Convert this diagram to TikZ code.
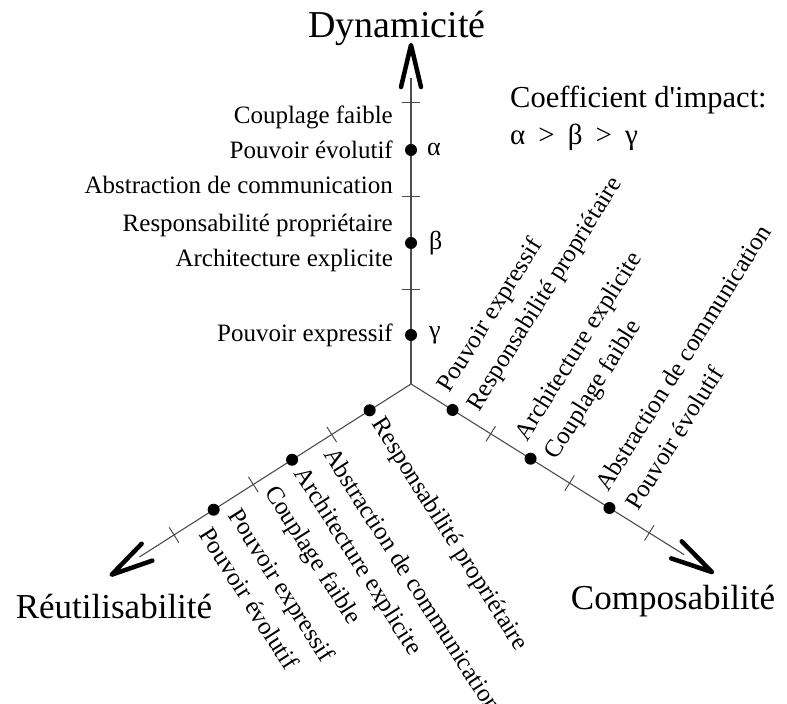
\documentclass[tikz,border=0pt]{standalone}
\usepackage{fontspec}
\setmainfont{Liberation Serif}
\newfontfamily\coeffont{Liberation Serif}[Ligatures=TeXOff]
\usetikzlibrary{calc}
\begin{document}
\begin{tikzpicture}[x=1pt,y=1pt,
  axisline/.style={line width=1.1pt, black!70},
  chevron/.style={line width=4.5pt, line cap=round, line join=round},
  tickmark/.style={line width=1pt, black!70},
  dotnode/.style={circle, fill=black, inner sep=0pt, minimum size=12pt},
  lbl/.style={font=\fontsize{25}{35}\selectfont, inner sep=0pt},
  greek/.style={font=\fontsize{26}{30}\selectfont, inner sep=0pt, anchor=west},
  axtitle/.style={font=\fontsize{35}{40}\selectfont, inner sep=0pt},
]
\useasboundingbox (0,0) rectangle (787,704);
\coordinate (O) at (411,320);

% axes, arrowheads, ticks, dots
\foreach \n/\a/\L/\T in {u/90/306/339, r/-32/322/355, l/212.5/322/355} {
  \coordinate (\n end) at ($(O)+(\a:\L)$);
  \coordinate (\n tip) at ($(O)+(\a:\T)$);
  \coordinate (\n armA) at ($(O)+(\a:\T-42)+(\a+90:10)$);
  \coordinate (\n armB) at ($(O)+(\a:\T-42)+(\a-90:10)$);
  \draw[axisline] (O) -- (\n end);
  \draw[chevron] (\n armA) -- (\n tip) -- (\n armB);
  \foreach \d in {94,187,281} {
    \draw[tickmark] ($(O)+(\a:\d)+(\a+90:9)$) -- ($(O)+(\a:\d)+(\a-90:9)$);
  }
  \node[dotnode] (\n1) at ($(O)+(\a:49)$) {};
  \node[dotnode] (\n2) at ($(O)+(\a:141)$) {};
  \node[dotnode] (\n3) at ($(O)+(\a:234)$) {};
}

% axis titles
\node[axtitle, font=\fontsize{38}{40}\selectfont] (tdyn) at (397,676) {Dynamicité};
\node[axtitle] (treu) at (114,97) {Réutilisabilité};
\node[axtitle] (tcomp) at (673,103) {Composabilité};

% coefficient legend
\node[inner sep=0pt, anchor=west, font=\coeffont\fontsize{30.5}{34}\selectfont] (coef) at (510,604) {Coefficient d'impact:};
\node[inner sep=0pt, anchor=west, font=\fontsize{29}{34}\selectfont] (order) at (510,567) {α\hspace{0.2em} > \hspace{0.2em}β\hspace{0.2em} > \hspace{0.2em}γ};

% vertical axis labels
\node[lbl, anchor=east, align=right] (u3l) at ($(u3)+(-18,0)$) {Couplage faible\\Pouvoir évolutif\\Abstraction de communication};
\node[lbl, anchor=east, align=right] (u2l) at ($(u2)+(-18,0)$) {Responsabilité propriétaire\\Architecture explicite};
\node[lbl, anchor=east, align=right] (u1l) at ($(u1)+(-18,0)$) {Pouvoir expressif};
\node[greek] (ga) at ($(u3)+(16,0)$) {α};
\node[greek] (gb) at ($(u2)+(18,0)$) {β};
\node[greek] (gc) at ($(u1)+(18,0)$) {γ};

% right axis labels (Composabilité)
\node[lbl, rotate=58, anchor=west, align=left] (r1l) at ($(r1)+(58:12)$) {Pouvoir expressif\\Responsabilité propriétaire};
\node[lbl, rotate=58, anchor=west, align=left] (r2l) at ($(r2)+(58:12)$) {Architecture explicite\\Couplage faible};
\node[lbl, rotate=58, anchor=west, align=left] (r3l) at ($(r3)+(58:12)$) {Abstraction de communication\\Pouvoir évolutif};

% left axis labels (Réutilisabilité)
\node[lbl, rotate=-57.5, anchor=west, align=left] (l1l) at ($(l1)+(-57.5:12)$) {Responsabilité propriétaire};
\node[lbl, rotate=-57.5, anchor=west, align=left] (l2l) at ($(l2)+(-57.5:12)$) {Abstraction de communication\\Architecture explicite\\Couplage faible};
\node[lbl, rotate=-57.5, anchor=west, align=left] (l3l) at ($(l3)+(-57.5:12)$) {Pouvoir expressif\\Pouvoir évolutif};
\end{tikzpicture}
\end{document}
